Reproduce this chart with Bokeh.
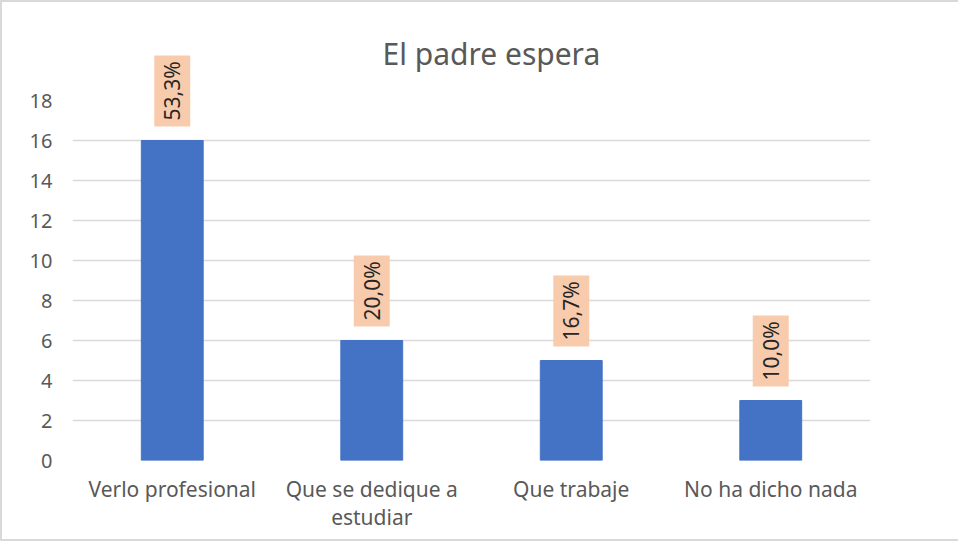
import math
from bokeh.plotting import figure
from bokeh.models import ColumnDataSource, Range1d, FactorRange
from bokeh.core.properties import value
from bokeh.embed import file_html
from bokeh.resources import INLINE

title_text = "El padre espera"
categories = ["Verlo profesional", "Que se dedique a\nestudiar", "Que trabaje", "No ha dicho nada"]
values = [16, 6, 5, 3]
pct_labels = ["53,3%", "20,0%", "16,7%", "10,0%"]
y_ticks = [0, 2, 4, 6, 8, 10, 12, 14, 16, 18]

FONT = "Noto Sans"
GRAY = "#595959"

src = ColumnDataSource(dict(cat=categories, val=values, lab=pct_labels))

p = figure(width=958, height=541, x_range=FactorRange(*categories), y_range=Range1d(0, 18),
           output_backend="svg", toolbar_location=None, title=title_text,
           min_border_left=70, min_border_right=90, min_border_top=98, min_border_bottom=83)
p.styles = {"border-left": "2px solid #d9d9d9", "border-top": "2px solid #d9d9d9",
            "border-bottom": "2px solid #d9d9d9"}

p.title.align = "left"
p.title.offset = 310
p.title.standoff = 54
p.title.text_font = FONT
p.title.text_font_size = "30px"
p.title.text_font_style = "normal"
p.title.text_color = GRAY

p.vbar(x="cat", top="val", width=0.31, source=src, color="#4472C4")

lab_r = p.text(x="cat", y="val", text="lab", source=src, angle=math.pi / 2,
               text_align="left", text_baseline="middle", y_offset=-14,
               text_font=value(FONT), text_font_size="21px", text_color="#262626",
               background_fill_color="#F8CBAD",
               padding=dict(left=6, right=6, top=4, bottom=4))
lab_r.level = "overlay"

p.outline_line_color = None
p.background_fill_color = "white"
p.border_fill_color = "white"
p.xgrid.grid_line_color = None
p.ygrid.grid_line_color = "#D9D9D9"
p.ygrid.grid_line_width = 1.5
p.yaxis.ticker = y_ticks

for ax in (p.xaxis, p.yaxis):
    ax.axis_line_color = None
    ax.major_tick_line_color = None
    ax.minor_tick_line_color = None
    ax.major_label_text_font = FONT
    ax.major_label_text_color = GRAY
p.yaxis.major_label_text_font_size = "20px"
p.xaxis.major_label_text_font_size = "21px"
p.xaxis.major_label_text_line_height = 1.0
p.yaxis.major_label_standoff = 14
p.xaxis.major_label_standoff = 8

open("out.html", "w").write(file_html(p, INLINE))
